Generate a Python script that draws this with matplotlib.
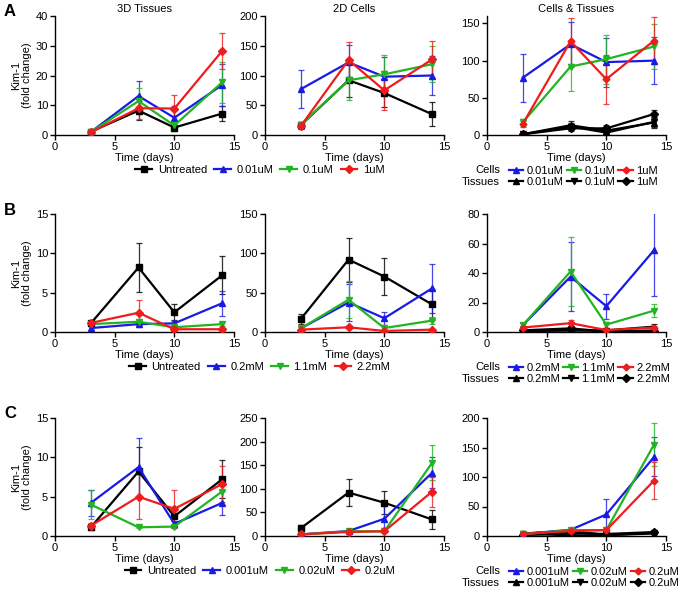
import numpy as np
import matplotlib.pyplot as plt

plt.rcParams['font.family'] = ['Liberation Sans', 'DejaVu Sans']
plt.rcParams['font.size'] = 8

days = [3, 7, 10, 14]

# untreated controls, shared by all three rows
tis_untreated = [1.1, 8.2, 2.5, 7.2]
tis_untreated_err = [0.3, 3.1, 1.0, 2.4]
cell_untreated = [16.5, 92, 70.5, 35]
cell_untreated_err = [6, 28, 24, 20]

# row A
dosesA = ['0.01uM', '0.1uM', '1uM']
tisA = [[1.0, 13.1, 5.8, 16.8], [1.0, 11.4, 3.2, 17.7], [0.9, 9.0, 8.9, 28.2]]
tisA_err = [[0.3, 5.2, 3.8, 7.0], [0.3, 4.4, 1.5, 7.0], [0.3, 3.7, 4.4, 6.0]]
cellA = [[77, 122, 98, 100], [17, 92, 102, 119], [15, 126, 75, 127]]
cellA_err = [[32, 30, 33, 32], [5, 33, 33, 30], [4, 31, 33, 31]]

# row B
dosesB = ['0.2mM', '1.1mM', '2.2mM']
tisB = [[0.5, 1.0, 1.1, 3.65], [1.0, 1.3, 0.6, 1.0], [1.15, 2.45, 0.35, 0.35]]
tisB_err = [[0.2, 0.4, 0.3, 1.6], [0.2, 0.4, 0.2, 0.3], [0.3, 1.6, 0.2, 0.2]]
cellB = [[4.6, 37.5, 17.5, 55.5], [4.6, 41, 5, 14.5], [3, 6, 1.3, 3]]
cellB_err = [[1.5, 23.5, 8.5, 31], [1.5, 23.5, 2, 4.5], [1, 2, 0.5, 1]]

# row C
dosesC = ['0.001uM', '0.02uM', '0.2uM']
tisC = [[4.2, 8.75, 1.55, 4.2], [4.0, 1.1, 1.2, 5.65], [1.3, 5.0, 3.45, 6.6]]
tisC_err = [[1.6, 3.75, 0.3, 1.5], [1.9, 0.1, 0.2, 1.7], [0.3, 2.9, 2.4, 2.3]]
cellC = [[3.5, 10.5, 36.5, 134], [3, 10, 10, 155], [3.5, 8.5, 10, 94]]
cellC_err = [[1, 2, 27, 33], [1, 2, 2, 37], [1, 2, 2, 32]]

rows = [
    ('A', dosesA, tisA, tisA_err, cellA, cellA_err, (40, 200, 160), (10, 50, 50)),
    ('B', dosesB, tisB, tisB_err, cellB, cellB_err, (15, 150, 80), (5, 50, 20)),
    ('C', dosesC, tisC, tisC_err, cellC, cellC_err, (15, 250, 200), (5, 50, 50)),
]
titles = ['3D Tissues', '2D Cells', 'Cells & Tissues']

colors = ['#1a1ae6', '#22b422', '#ee1c1c']
markers = ['^', 'v', 'D']

W, H = 681, 595
fig = plt.figure(figsize=(W / 100, H / 100), dpi=100)

lefts = [55, 265, 487]
tops = [16, 214, 418]
bottoms = [135, 332, 536]
ax_w = 179


def series(ax, y, err, color, marker, ms, lw=1.6):
    ax.errorbar(days, y, yerr=err, fmt='none', ecolor=color, elinewidth=0.9,
                capsize=2.5, capthick=0.9, alpha=0.8, zorder=2)
    line, = ax.plot(days, y, color=color, marker=marker, ms=ms, lw=lw, zorder=3)
    return line


def style(ax, ymax, ystep):
    ax.set_xlim(0, 15)
    ax.set_ylim(0, ymax)
    ax.set_xticks([0, 5, 10, 15])
    ax.set_yticks(np.arange(0, ymax + 0.1, ystep))
    for s in ['top', 'right']:
        ax.spines[s].set_visible(False)
    for s in ['left', 'bottom']:
        ax.spines[s].set_linewidth(1.0)
    ax.tick_params(direction='out', length=3.5, width=1.0, labelsize=8, pad=1.5)
    ax.set_xlabel('Time (days)', labelpad=1)


for r, (letter, doses, tis, tis_err, cell, cell_err, ymaxs, ysteps) in enumerate(rows):
    axes = []
    for c in range(3):
        ax = fig.add_axes([lefts[c] / W, 1 - bottoms[r] / H, ax_w / W,
                           (bottoms[r] - tops[r]) / H])
        style(ax, ymaxs[c], ysteps[c])
        if r == 0:
            ax.set_title(titles[c], fontsize=8, pad=3)
        axes.append(ax)
    axes[0].set_ylabel('Kim-1\n(fold change)', labelpad=3, linespacing=1.1)

    # tissues
    h_main = [series(axes[0], tis_untreated, tis_untreated_err, 'black', 's', 5)]
    for k in range(3):
        h_main.append(series(axes[0], tis[k], tis_err[k], colors[k], markers[k], 5 if k < 2 else 4))
    # cells
    series(axes[1], cell_untreated, cell_untreated_err, 'black', 's', 5)
    for k in range(3):
        series(axes[1], cell[k], cell_err[k], colors[k], markers[k], 5 if k < 2 else 4)
    # cells & tissues
    h_cell, h_tis = [], []
    for k in range(3):
        h_tis.append(series(axes[2], tis[k], tis_err[k], 'black', markers[k], 4))
    for k in range(3):
        h_cell.append(series(axes[2], cell[k], cell_err[k], colors[k], markers[k], 4 if k < 2 else 3.5))

    fig.text(4 / W, 1 - (tops[r] - 4) / H, letter, fontsize=12, fontweight='bold',
             va='center', ha='left')

    leg_y = bottoms[r] + 35
    fig.legend(h_main, ['Untreated'] + doses, loc='center',
               bbox_to_anchor=(260 / W, 1 - leg_y / H), ncol=4, frameon=False,
               handlelength=1.5, handletextpad=0.5, columnspacing=0.65, fontsize=8,
               borderpad=0)

    hs, ls = [], []
    for k in range(3):
        hs += [h_cell[k], h_tis[k]]
        ls += [doses[k], doses[k]]
    fig.legend(hs, ls, loc='upper left', bbox_to_anchor=(503 / W, 1 - (leg_y - 10) / H),
               ncol=3, frameon=False, handlelength=1.3, handletextpad=0.3,
               columnspacing=0.3, labelspacing=0.1, fontsize=8, borderpad=0)
    fig.text(500 / W, 1 - leg_y / H, 'Cells', ha='right', va='center', fontsize=8)
    fig.text(500 / W, 1 - (leg_y + 12) / H, 'Tissues', ha='right', va='center', fontsize=8)

fig.savefig('out.png', dpi=100)
